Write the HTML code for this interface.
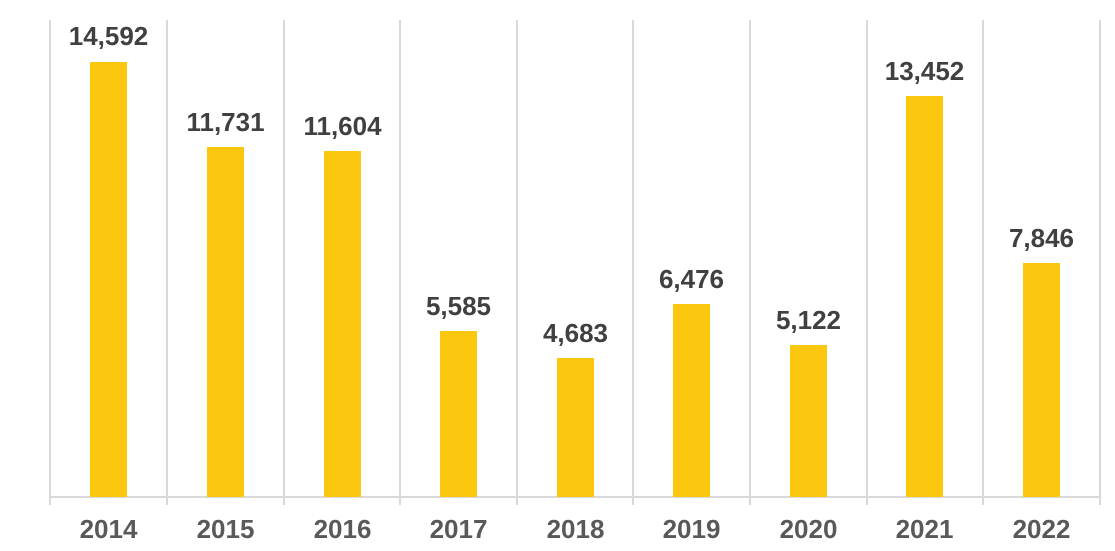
<!DOCTYPE html>
<html><head><meta charset="utf-8"><style>
html,body{margin:0;padding:0;background:#fff;}
svg text{font-family:"Liberation Sans",sans-serif;font-weight:bold;font-size:26px;text-anchor:middle;}
</style></head><body>
<svg width="1115" height="546" viewBox="0 0 1115 546" xmlns="http://www.w3.org/2000/svg">
<g stroke="#d9d9d9" stroke-width="2">
<line x1="50" y1="20" x2="50" y2="505"/><line x1="167" y1="20" x2="167" y2="505"/>
<line x1="284" y1="20" x2="284" y2="505"/><line x1="400" y1="20" x2="400" y2="505"/>
<line x1="517" y1="20" x2="517" y2="505"/><line x1="633" y1="20" x2="633" y2="505"/>
<line x1="750" y1="20" x2="750" y2="505"/><line x1="867" y1="20" x2="867" y2="505"/>
<line x1="983" y1="20" x2="983" y2="505"/><line x1="1100" y1="20" x2="1100" y2="505"/>
<line x1="50" y1="497" x2="1100" y2="497"/>
</g>
<g fill="#fcc80f">
<rect x="90" y="62" width="37" height="435"/>
<rect x="207" y="147" width="37" height="350"/>
<rect x="324" y="151" width="37" height="346"/>
<rect x="440" y="331" width="37" height="166"/>
<rect x="557" y="358" width="37" height="139"/>
<rect x="673" y="304" width="37" height="193"/>
<rect x="790" y="345" width="37" height="152"/>
<rect x="906" y="96" width="37" height="401"/>
<rect x="1023" y="263" width="37" height="234"/>
</g>
<g fill="#404040">
<text x="108.5" y="45">14,592</text>
<text x="225.5" y="131">11,731</text>
<text x="342.5" y="135">11,604</text>
<text x="458.5" y="315">5,585</text>
<text x="575.5" y="342">4,683</text>
<text x="691.5" y="288">6,476</text>
<text x="808.5" y="329">5,122</text>
<text x="924.5" y="80">13,452</text>
<text x="1041.5" y="247">7,846</text>
</g>
<g fill="#595959">
<text x="108.5" y="538">2014</text><text x="225.5" y="538">2015</text>
<text x="342.5" y="538">2016</text><text x="458.5" y="538">2017</text>
<text x="575.5" y="538">2018</text><text x="691.5" y="538">2019</text>
<text x="808.5" y="538">2020</text><text x="924.5" y="538">2021</text>
<text x="1041.5" y="538">2022</text>
</g>
</svg>
</body></html>
